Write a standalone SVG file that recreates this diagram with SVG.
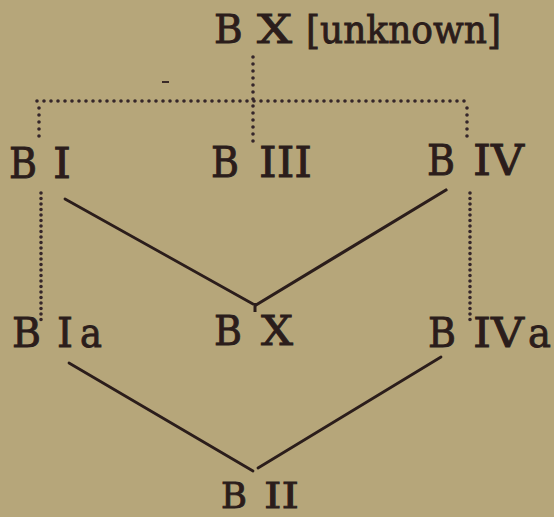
<svg xmlns="http://www.w3.org/2000/svg" width="554" height="517" viewBox="0 0 554 517">
<style>
.t{font-family:"DejaVu Serif","Liberation Serif",serif;fill:#2b1d1b;stroke:#2b1d1b;stroke-width:0.9}
.dot{fill:none;stroke:#35262a;stroke-width:3.6;stroke-linecap:round;stroke-dasharray:0 7}
.dot2{fill:none;stroke:#35262a;stroke-width:3.6;stroke-linecap:round;stroke-dasharray:0 5.5}
.sol{fill:none;stroke:#2b1d1b;stroke-width:2.8;stroke-linecap:round}
</style>
<rect width="554" height="517" fill="#b6a67a"/>
<g id="connectors">
<line class="dot" x1="253" y1="57" x2="253" y2="147"/>
<line class="dot" x1="37" y1="101" x2="467" y2="101"/>
<line class="dot" x1="39" y1="108" x2="39" y2="137"/>
<line class="dot" x1="467" y1="108" x2="467" y2="140"/>
<line class="dot2" x1="41" y1="193" x2="41" y2="322"/>
<line class="dot2" x1="470" y1="193" x2="470" y2="323"/>
<line class="sol" x1="65" y1="199" x2="253" y2="304"/>
<line class="sol" x1="446" y1="190" x2="256" y2="305" style="stroke-width:3.2"/>
<line class="sol" x1="255" y1="303" x2="255" y2="312" style="stroke-width:3;stroke-linecap:butt"/>
<line class="sol" x1="69" y1="363" x2="253" y2="471"/>
<line class="sol" x1="441" y1="357" x2="258" y2="468"/>
<rect x="162" y="81" width="7" height="2" fill="#3a2a28"/>
</g>
<g id="n-bx-unknown">
<text class="t" x="214" y="43" font-size="39">B</text>
<text class="t" x="257" y="43" font-size="39" textLength="35" lengthAdjust="spacingAndGlyphs">X</text>
<text class="t" x="306" y="43" font-size="39" textLength="195" lengthAdjust="spacingAndGlyphs">[unknown]</text>
</g>
<g id="n-bi">
<text class="t" x="9" y="178" font-size="42" textLength="28" lengthAdjust="spacingAndGlyphs">B</text>
<text class="t" x="53" y="178" font-size="42" textLength="18" lengthAdjust="spacingAndGlyphs">I</text>
</g>
<g id="n-biii">
<text class="t" x="211" y="177" font-size="42" textLength="28" lengthAdjust="spacingAndGlyphs">B</text>
<text class="t" x="259" y="177" font-size="42" textLength="53" lengthAdjust="spacingAndGlyphs">III</text>
</g>
<g id="n-biv">
<text class="t" x="427" y="175" font-size="42" textLength="28" lengthAdjust="spacingAndGlyphs">B</text>
<text class="t" x="473" y="175" font-size="42" textLength="51" lengthAdjust="spacingAndGlyphs">IV</text>
</g>
<g id="n-bia">
<text class="t" x="12" y="347" font-size="41" textLength="29" lengthAdjust="spacingAndGlyphs">B</text>
<text class="t" x="57" y="347" font-size="41" textLength="16" lengthAdjust="spacingAndGlyphs">I</text>
<text class="t" x="80" y="347" font-size="41" textLength="22" lengthAdjust="spacingAndGlyphs">a</text>
</g>
<g id="n-bx">
<text class="t" x="214" y="345" font-size="41" textLength="28" lengthAdjust="spacingAndGlyphs">B</text>
<text class="t" x="261" y="345" font-size="41" textLength="32" lengthAdjust="spacingAndGlyphs">X</text>
</g>
<g id="n-biva">
<text class="t" x="428" y="347" font-size="41" textLength="28" lengthAdjust="spacingAndGlyphs">B</text>
<text class="t" x="473" y="347" font-size="41" textLength="51" lengthAdjust="spacingAndGlyphs">IV</text>
<text class="t" x="528" y="347" font-size="41" textLength="23" lengthAdjust="spacingAndGlyphs">a</text>
</g>
<g id="n-bii">
<text class="t" x="221" y="508" font-size="36" textLength="26" lengthAdjust="spacingAndGlyphs">B</text>
<text class="t" x="264" y="508" font-size="36" textLength="35" lengthAdjust="spacingAndGlyphs">II</text>
</g>
</svg>
